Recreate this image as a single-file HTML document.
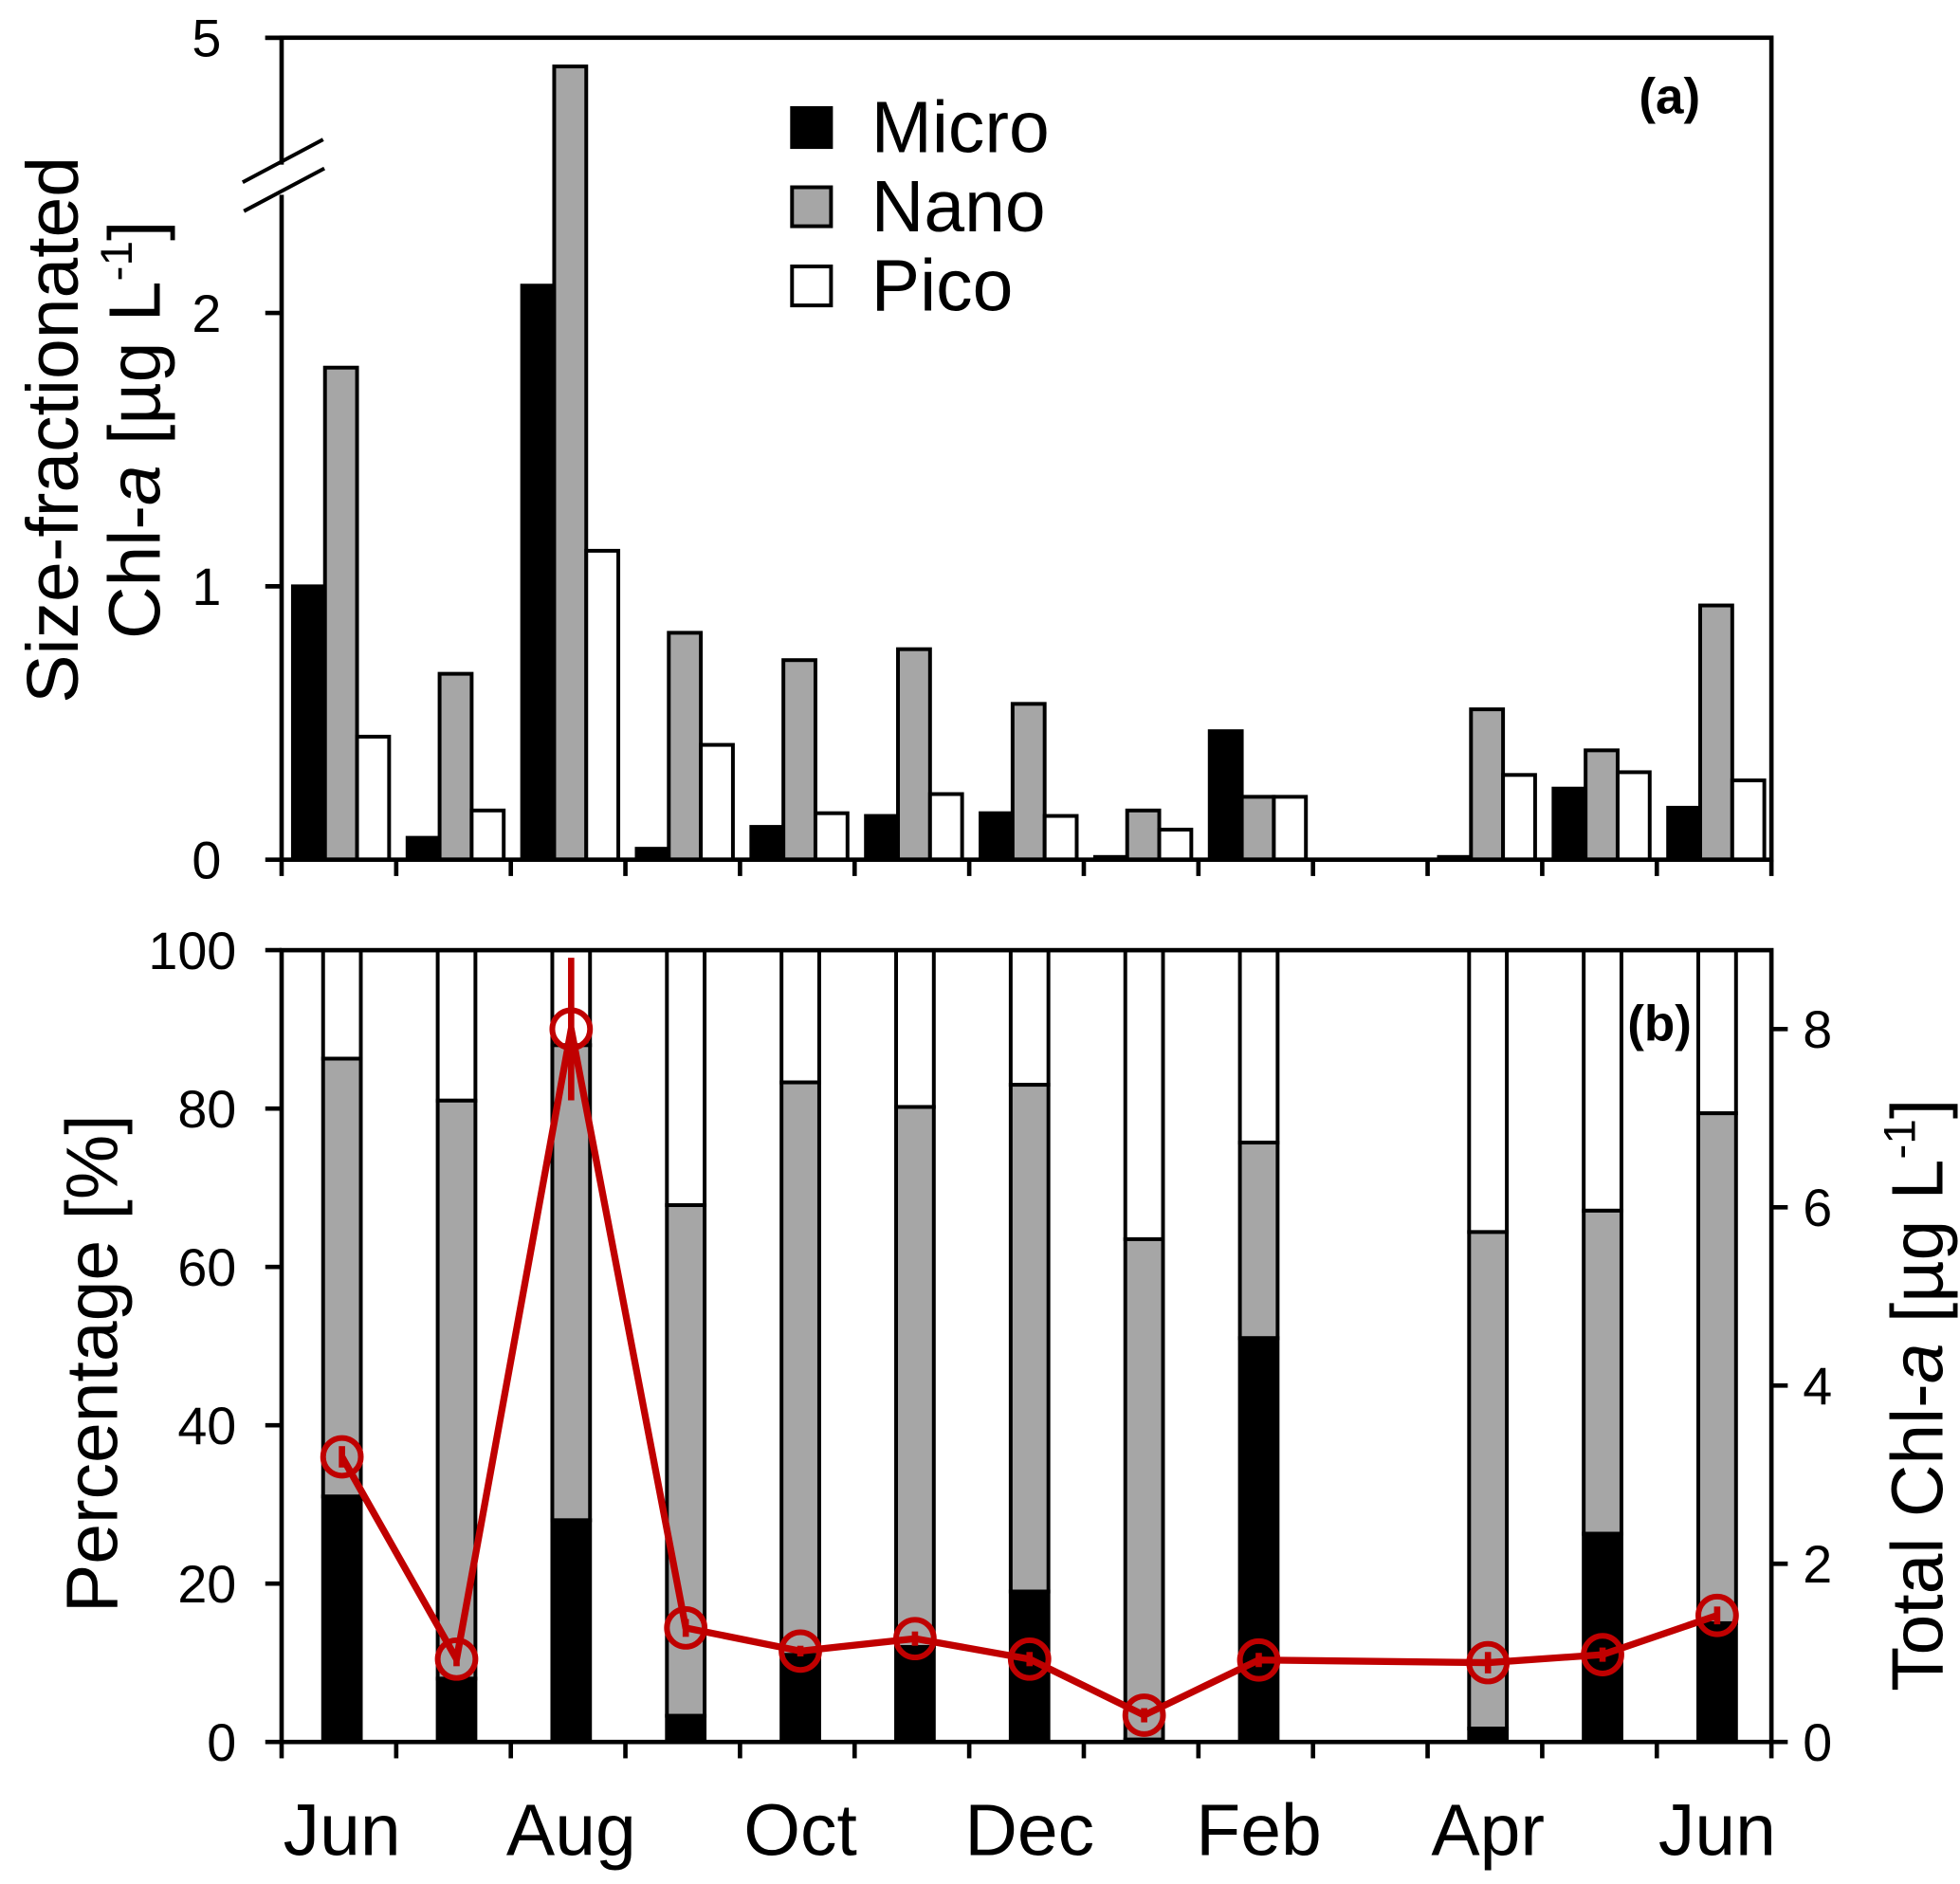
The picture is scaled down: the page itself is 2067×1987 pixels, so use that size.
<!DOCTYPE html>
<html><head><meta charset="utf-8"><style>
html,body{margin:0;padding:0;background:#fff}
svg{display:block}
text{font-family:"Liberation Sans",Arial,sans-serif;fill:#000}
</style></head><body>
<svg id="chart" width="2067" height="1987" viewBox="0 0 1559 1499" preserveAspectRatio="none" xmlns="http://www.w3.org/2000/svg">
<g id="pa"></g>
<g id="pb"></g>
</svg>
<script>
const months = ["Jun","Jul","Aug","Sep","Oct","Nov","Dec","Jan","Feb","Mar","Apr","May","Jun"];
const micro = [1.0,0.08,2.1,0.04,0.12,0.16,0.17,0.01,0.47,0,0.01,0.26,0.19];
const nano  = [1.8,0.68,4.48,0.83,0.73,0.77,0.57,0.18,0.23,0,0.55,0.40,0.93];
const pico  = [0.45,0.18,1.13,0.42,0.17,0.24,0.16,0.11,0.23,0,0.31,0.32,0.29];
const pctMicro = [31,8,28,3.3,11,12,19,0.3,51,null,1.7,26.3,15];
const pctMicroNano = [86.3,81,88,67.8,83.3,80.2,83,63.5,75.7,null,64.4,67.1,79.4];
const total = [3.2,0.93,8.0,1.28,1.02,1.16,0.93,0.3,0.92,null,0.89,0.98,1.42];
const totalErr = [0.12,0.08,0.8,0.1,0.06,0.08,0.08,0.08,0.08,null,0.12,0.08,0.1];
const aTicks = [0,1,2,5];
const bTicks = [0,20,40,60,80,100];
const rTicks = [0,2,4,6,8];
const monthLabels = ["Jun","Aug","Oct","Dec","Feb","Apr","Jun"];

const NS="http://www.w3.org/2000/svg";
const L=224,R=1409,GW=(R-L)/13;
function mk(parent,tag,attrs,txt){const e=document.createElementNS(NS,tag);for(const k in attrs)e.setAttribute(k,attrs[k]);if(txt!==undefined)e.textContent=txt;parent.appendChild(e);return e;}
const aTop=30,aBot=684;
function ya(v){ if(v<=2.5) return aBot-v*217.5; return 140-(v-2.5)*(110/2.5); }
const yb=p=>1386-p*6.3;
const yr=v=>1386-v*70.9;
const gx=i=>L+i*GW;

const pa=document.getElementById('pa');
months.forEach((m,i)=>{
  const x0=gx(i)+9;
  [[micro,'#000'],[nano,'#a6a6a6'],[pico,'#fff']].forEach(([arr,col],k)=>{
    const v=arr[i]; if(!v) return;
    const r=mk(pa,'rect',{x:x0+k*25.5,y:ya(v),width:25.5,height:aBot-ya(v),fill:col,stroke:'#000','stroke-width':3});
    
    
  });
});
mk(pa,'rect',{x:L,y:aTop,width:R-L,height:aBot-aTop,fill:'none',stroke:'#000','stroke-width':3.5,});
mk(pa,'line',{x1:211,x2:L,y1:aTop,y2:aTop,stroke:'#000','stroke-width':3.5});
aTicks.forEach(t=>{
  mk(pa,'line',{x1:211,x2:L,y1:ya(t),y2:ya(t),stroke:'#000','stroke-width':3.5});
  const tx=mk(pa,'text',{x:176,y:ya(t)+15,'font-size':42,'text-anchor':'end'},t);
  
  
});
for(let i=0;i<=13;i++) mk(pa,'line',{x1:gx(i),x2:gx(i),y1:aBot,y2:aBot+13,stroke:'#000','stroke-width':3.5});
mk(pa,'rect',{x:218,y:131,width:12,height:24,fill:'#fff'});
mk(pa,'line',{x1:193,y1:145,x2:257,y2:111,stroke:'#000','stroke-width':3,});
mk(pa,'line',{x1:194,y1:168,x2:258,y2:134,stroke:'#000','stroke-width':3});
[['Micro','#000'],['Nano','#a6a6a6'],['Pico','#fff']].forEach(([n,c],k)=>{
  const g=mk(pa,'g',{});
  mk(g,'rect',{x:630,y:86+k*63,width:31,height:31,fill:c,stroke:'#000','stroke-width':3});
  mk(g,'text',{x:693,y:121+k*63,'font-size':58},n);
});
mk(pa,'text',{x:1328,y:90,'font-size':40,'font-weight':'bold','text-anchor':'middle',},'(a)');
mk(pa,'text',{transform:'translate(62,342) rotate(-90)','font-size':58,'text-anchor':'middle',},'Size-fractionated');
const ya2=mk(pa,'text',{transform:'translate(127,342) rotate(-90)','font-size':58,'text-anchor':'middle',});
ya2.innerHTML='Chl-<tspan font-style="italic">a</tspan> [µg L<tspan dy="-22" font-size="36">-1</tspan><tspan dy="22">]</tspan>';

const pb=document.getElementById('pb');
months.forEach((m,i)=>{
  if(pctMicro[i]===null) return;
  const x=gx(i)+33;
  const w=30;
  const g=mk(pb,'g',{});
  
  
  mk(g,'rect',{x:x,y:yb(100),width:w,height:yb(pctMicroNano[i])-yb(100),fill:'#fff',stroke:'#000','stroke-width':3});
  mk(g,'rect',{x:x,y:yb(pctMicroNano[i]),width:w,height:yb(pctMicro[i])-yb(pctMicroNano[i]),fill:'#a6a6a6',stroke:'#000','stroke-width':3});
  mk(g,'rect',{x:x,y:yb(pctMicro[i]),width:w,height:1386-yb(pctMicro[i]),fill:'#000',stroke:'#000','stroke-width':3});
});
mk(pb,'rect',{x:L,y:756,width:R-L,height:630,fill:'none',stroke:'#000','stroke-width':3.5,});
bTicks.forEach(t=>{
  mk(pb,'line',{x1:211,x2:L,y1:yb(t),y2:yb(t),stroke:'#000','stroke-width':3.5});
  const tx=mk(pb,'text',{x:188,y:yb(t)+15,'font-size':42,'text-anchor':'end'},t);
  
  
});
rTicks.forEach(t=>{
  mk(pb,'line',{x1:R,x2:R+13,y1:yr(t),y2:yr(t),stroke:'#000','stroke-width':3.5});
  const tx=mk(pb,'text',{x:1434,y:yr(t)+15,'font-size':42},t);
  
  
});
for(let i=0;i<=13;i++) mk(pb,'line',{x1:gx(i),x2:gx(i),y1:1386,y2:1399,stroke:'#000','stroke-width':3.5});
monthLabels.forEach((m,k)=>{
  const tx=mk(pb,'text',{x:gx(2*k)+48,y:1476,'font-size':58,'text-anchor':'middle'},m);
  
  
});
const red='#c00000';
let pts=[];
months.forEach((m,i)=>{ if(total[i]!==null) pts.push([gx(i)+48,yr(total[i]),i]); });
const pl=mk(pb,'polyline',{points:pts.map(p=>p[0]+','+p[1]).join(' '),fill:'none',stroke:red,'stroke-width':5.5,'stroke-linejoin':'round'});


pts.forEach(([x,y,i])=>{
  const e=totalErr[i];
  mk(pb,'line',{x1:x,x2:x,y1:yr(total[i]+e),y2:yr(total[i]-e),stroke:red,'stroke-width':5});
  const c=mk(pb,'circle',{cx:x,cy:y,r:15,fill:'none',stroke:red,'stroke-width':4.5});
  
  
});
mk(pb,'text',{x:1320,y:828,'font-size':40,'font-weight':'bold','text-anchor':'middle',},'(b)');
mk(pb,'text',{transform:'translate(93,1085) rotate(-90)','font-size':58,'text-anchor':'middle',},'Percentage [%]');
const yr1=mk(pb,'text',{transform:'translate(1545,1110) rotate(-90)','font-size':58,'text-anchor':'middle',});
yr1.innerHTML='Total Chl-<tspan font-style="italic">a</tspan> [µg L<tspan dy="-22" font-size="36">-1</tspan><tspan dy="22">]</tspan>';
</script>
</body></html>
